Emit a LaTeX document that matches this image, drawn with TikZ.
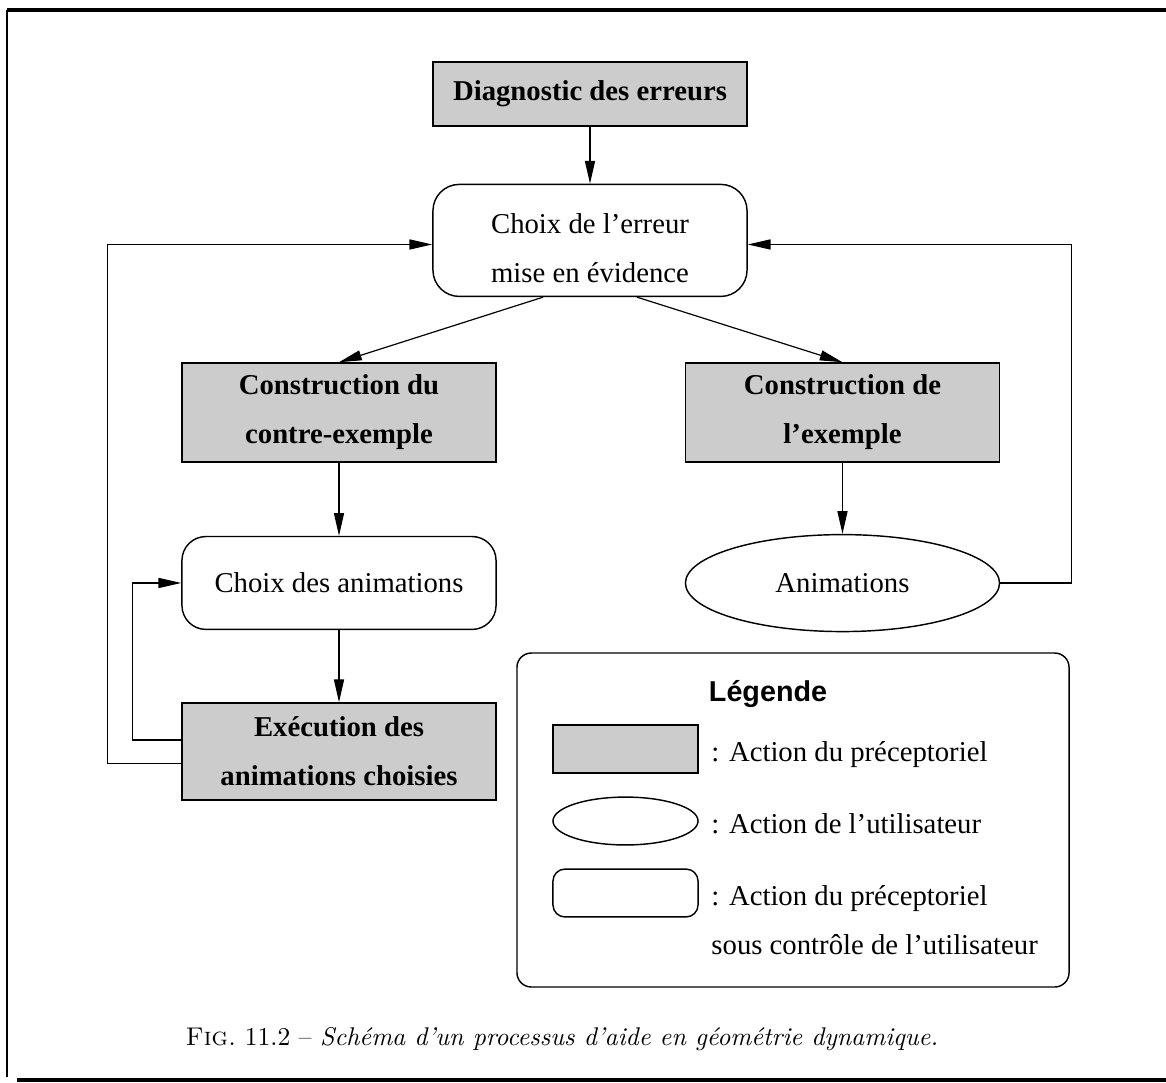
\documentclass[tikz,border=0pt]{standalone}
\usepackage{fontspec}
\newfontfamily\timesfont{Liberation Serif}
\newfontfamily\helvfont{Liberation Sans}
\usetikzlibrary{arrows.meta,positioning,shapes.geometric}
\definecolor{boxgray}{HTML}{CCCCCC}
\tikzset{
  every node/.style={font=\timesfont\fontsize{12}{20.5}\selectfont},
  action/.style={
    draw, line width=0.6pt, fill=boxgray, minimum width=131.2pt,
    align=center, font=\timesfont\bfseries\fontsize{12}{20.5}\selectfont
  },
  pilot/.style={draw, line width=0.6pt, rounded corners=10pt, fill=white, minimum width=131.2pt, align=center},
  user/.style={draw, ellipse, line width=0.6pt, minimum width=131.2pt, minimum height=40.5pt},
  keybox/.style={draw, line width=0.6pt, minimum width=60.6pt, minimum height=20pt},
  keytext/.style={anchor=west, align=left},
  flow/.style={-{Triangle[length=9.5pt,width=4.2pt]}, line width=0.5pt},
  frame/.style={line width=1.3pt}
}

\begin{document}
\begin{tikzpicture}[x=0.4177pt, y=-0.4177pt]
  \useasboundingbox (0,0) rectangle (1166,1082);

  % page frame
  \draw[frame] (7,10) -- (1166,10);
  \draw[frame, line width=0.9pt] (7,10) -- (7,1077);
  \draw[frame] (17,1080) -- (1166,1080);

  \node[action, minimum height=26.7pt] (diag) at (590,94) {Diagnostic des erreurs};
  \node[pilot, minimum height=46.8pt, rounded corners=11pt, below=23.8pt of diag,
    label={[align=center, yshift=-3.3pt]center:Choix de l’erreur\\mise en évidence}] (choixErr) {};

  \node[action, minimum height=41.4pt] (cce) at (339,412.5) {Construction du\\contre-exemple};
  \node[action, minimum height=41.4pt, right=78.5pt of cce] (ce) {Construction de\\l’exemple};

  \node[pilot, minimum height=38.8pt, below=30.5pt of cce] (choixAnim) {Choix des animations};
  \node[action, minimum height=40.5pt, below=30.1pt of choixAnim] (exec) {Exécution des\\animations choisies};
  \node[user, below=29.7pt of ce] (anim) {Animations};

  \draw[flow] (diag) -- (choixErr);
  \draw[flow] ([xshift=-19.6pt]choixErr.south) -- (cce.north);
  \draw[flow] ([xshift=19.6pt]choixErr.south) -- (ce.north);
  \draw[flow] (cce) -- (choixAnim);
  \draw[flow] (ce) -- (anim);
  \draw[flow] (choixAnim) -- (exec);

  % feedback loops
  \draw[flow] ([yshift=4.8pt]exec.west) -- ++(-20.5pt,0) |- (choixAnim.west);
  \draw[flow] ([yshift=-5.2pt]exec.west) -- ++(-30.9pt,0) |- ([yshift=-1.7pt]choixErr.west);
  \draw[flow] (anim.east) -- ++(29.7pt,0) |- ([yshift=-1.7pt]choixErr.east);

  % legend
  \node[draw, line width=0.6pt, rounded corners=6pt, minimum width=230.6pt, minimum height=139.5pt] (legend) at (793,820) {};
  \node[font=\helvfont\bfseries\fontsize{12}{14}\selectfont] (legendTitle) at (768,694) {Légende};
  \node[keybox, fill=boxgray] (keyAction) at (625.5,749) {};
  \node[keybox, ellipse] (keyUser) at (625.5,821) {};
  \node[keybox, rounded corners=5pt] (keyPilot) at (625.5,893) {};
  \node[keytext] (txtAction) at (703,755) {: Action du préceptoriel};
  \node[keytext] (txtUser) at (703,824) {: Action de l’utilisateur};
  \node[keytext, anchor=north west] (txtPilot) at (703,877) {: Action du préceptoriel\\sous contrôle de l’utilisateur};

  \node[font=\fontsize{10.7}{13}\selectfont] (caption) at (562,1039) {\textsc{Fig.}~11.2 -- \textit{Schéma d’un processus d’aide en géométrie dynamique.}};
\end{tikzpicture}
\end{document}
